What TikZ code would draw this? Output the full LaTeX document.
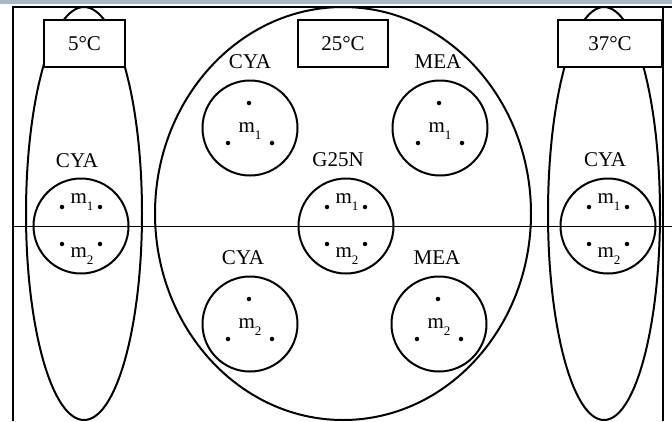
\documentclass[tikz,border=0pt]{standalone}
\usepackage{fontspec}
\setmainfont{Liberation Serif}
\usepackage{xcolor}
\usepackage{tikz}
\usetikzlibrary{shapes.geometric, positioning}
\definecolor{barBlue}{RGB}{168, 184, 200}
\newcommand{\msub}[1]{m\raisebox{-7pt}{\fontsize{13}{13}\selectfont #1}}

\begin{document}
\begin{tikzpicture}[x=1pt, y=-1pt, every node/.style={font=\fontsize{21}{25}\selectfont},
    tempbox/.style={draw, fill=white, line width=2pt, inner sep=0pt},
    plate/.style={draw, ellipse, line width=2pt, inner sep=0pt},
    dish/.style={draw, circle, line width=2pt, minimum size=95, inner sep=0pt},
    spot/.style={circle, fill, inner sep=0pt, minimum size=4.5},
    mlbl/.style={anchor=base, inner sep=0pt}]
    \useasboundingbox (0,0) rectangle (672,421);
    % Top bar and frame
    \fill[barBlue] (0,0) rectangle (672,3.5);
    \draw[line width=2.6pt] (13,421) -- (13,7) -- (672,7);
    \draw[line width=2.6pt] (663,7) -- (663,421);
    % Incubation plates
    \node[plate, minimum width=116, minimum height=413] (cold) at (84,213.5) {};
    \node[plate, minimum width=376, minimum height=413] (room) at (343,213.5) {};
    \node[plate, minimum width=112, minimum height=413] (warm) at (604,213.5) {};
    % Temperature boxes
    \node[tempbox, minimum width=81, minimum height=47] (coldT) at (84.5,43.5) {5°C};
    \node[tempbox, minimum width=90, minimum height=47] (roomT) at (343,43.5) {25°C};
    \node[tempbox, minimum width=104, minimum height=47] (warmT) at (610,43.5) {37°C};
    % Dishes
    \node[dish] (cya5) at (81,226) {};
    \node[dish] (cyaA) at (250,128) {};
    \node[dish] (meaA) at (440,128) {};
    \node[dish] (gn) at (346,226) {};
    \node[dish] (cyaB) at (250,324) {};
    \node[dish] (meaB) at (439,324) {};
    \node[dish] (cya37) at (608,226) {};
    % Medium labels
    \node (cya5L) at (77,161) {CYA};
    \node (cyaAL) at (250,62) {CYA};
    \node (meaAL) at (438,62) {MEA};
    \node (gnL) at (338,160) {G25N};
    \node (cyaBL) at (243,258) {CYA};
    \node (meaBL) at (437,258) {MEA};
    \node (cya37L) at (605,160) {CYA};
    % Split line
    \coordinate (splitL) at (13,226);
    \coordinate (splitR) at (672,226);
    \draw[line width=0.8pt] (splitL) -- (splitR);
    % Dishes with both strains
    \foreach \d in {cya5, gn, cya37} {
        \node[spot] (\d-a) at ([shift={(-19,-19)}]\d) {};
        \node[spot] (\d-b) at ([shift={(19,-19)}]\d) {};
        \node[spot] (\d-c) at ([shift={(-19,18)}]\d) {};
        \node[spot] (\d-d) at ([shift={(19,18)}]\d) {};
        \node[mlbl] (\d-m1) at ([shift={(1,-23)}]\d) {\msub{1}};
        \node[mlbl] (\d-m2) at ([shift={(1,31)}]\d) {\msub{2}};
    }
    % Dishes with one strain
    \foreach \d/\s in {cyaA/1, meaA/1, cyaB/2, meaB/2} {
        \node[spot] (\d-a) at ([shift={(-1,-25)}]\d) {};
        \node[spot] (\d-b) at ([shift={(-22,15)}]\d) {};
        \node[spot] (\d-c) at ([shift={(22,15)}]\d) {};
        \node[mlbl] (\d-m) at ([shift={(0,4)}]\d) {\msub{\s}};
    }
\end{tikzpicture}
\end{document}
